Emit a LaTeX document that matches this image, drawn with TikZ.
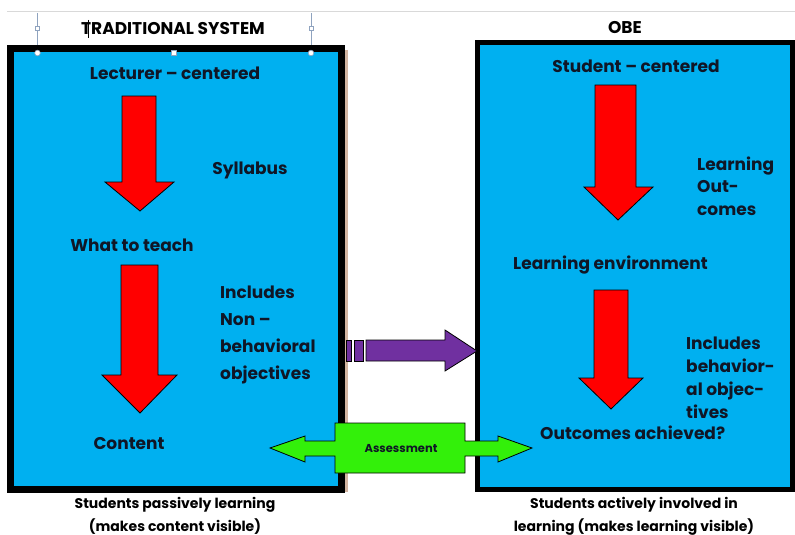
\documentclass[tikz,border=0pt]{standalone}
\usepackage{fontspec}
\setmainfont{Poppins}
\definecolor{boxblue}{HTML}{00B0F0}
\definecolor{arrred}{HTML}{FF0000}
\definecolor{arrpurple}{HTML}{7030A0}
\definecolor{arrgreen}{HTML}{33F00A}
\definecolor{txtc}{HTML}{101626}
\definecolor{handle}{HTML}{8FA3BF}
\definecolor{shadowc}{HTML}{D2B4A0}
\begin{document}
\begin{tikzpicture}[x=1pt,y=-1pt,
  lbl/.style={font=\bfseries\fontsize{17}{20}\selectfont, text=txtc, inner sep=0pt},
  biglbl/.style={font=\bfseries\fontsize{17}{20}\selectfont, text=black, inner sep=0pt},
  caplbl/.style={font=\bfseries\fontsize{14}{23}\selectfont, text=black, inner sep=0pt, align=center},
  blockarrow/.style={draw=black, line width=0.8pt, line join=miter},
  panel/.style={draw=black, fill=boxblue, line join=miter},
  hnd/.style={draw=handle, fill=white, line width=0.6pt}]
\useasboundingbox (0,0) rectangle (795,535);
% editor artefacts
\draw[gray!30, line width=1pt] (7,12) -- (795,12);
\draw[handle, line width=0.6pt] (37.5,13) -- (37.5,53) (311,13) -- (311,53);
\draw[hnd] (35.5,26) rectangle (39.5,30);
\draw[hnd] (309,26) rectangle (313,30);
% left panel
\fill[shadowc] (341,50) rectangle (348,492);
\draw[panel, line width=7pt] (10.5,48.5) rectangle (341.5,489.5);
% right panel
\draw[panel, line width=5pt] (477.5,43) rectangle (792.5,489.5);
% handles on left panel
\draw[hnd] (37.5,53) circle (2.8);
\draw[hnd] (311,53) circle (2.8);
\draw[hnd] (171.5,50.5) rectangle (176.5,55.5);
% titles
\node[biglbl] (trad) at (173,29) {TRADITIONAL SYSTEM};
\draw[black, line width=0.6pt] (88,20) -- (88,38);
\node[biglbl] (obe) at (625,28) {OBE};
% left content
\node[lbl] (lect) at (175,73) {Lecturer – centered};
\draw[blockarrow, fill=arrred] (122,96) -- (156,96) -- (156,182) -- (174,182) -- (140,211) -- (105,182) -- (122,182) -- cycle;
\node[lbl] (syl) at (250,170) {Syllabus};
\node[lbl] (what) at (132,245) {What to teach};
\draw[blockarrow, fill=arrred] (121,265) -- (158,265) -- (158,375) -- (177,375) -- (140,413) -- (102,375) -- (121,375) -- cycle;
\node[lbl, align=left, anchor=west, font=\bfseries\fontsize{17}{26.7}\selectfont] (incl) at (220,335) {Includes\\Non –\\behavioral\\objectives};
\node[lbl] (cont) at (129,444) {Content};
% right content
\node[lbl] (stud) at (636,66) {Student – centered};
\draw[blockarrow, fill=arrred] (595,85) -- (636,85) -- (636,187) -- (653,187) -- (618,220) -- (584,187) -- (595,187) -- cycle;
\node[lbl, align=left, anchor=west, font=\bfseries\fontsize{17}{22.5}\selectfont] (lo) at (697,186) {Learning\\Out-\\comes};
\node[lbl, anchor=west] (env) at (513,265) {Learning environment};
\draw[blockarrow, fill=arrred] (594,290) -- (628,290) -- (628,378) -- (643,378) -- (611,409) -- (579,378) -- (594,378) -- cycle;
\node[lbl, align=left, anchor=west, font=\bfseries\fontsize{17}{23}\selectfont] (beh) at (686,378) {Includes\\behavior-\\al objec-\\tives};
\node[lbl, anchor=west] (outc) at (540,433) {Outcomes achieved?};
% purple arrow
\draw[blockarrow, fill=arrpurple] (346,340) rectangle (351,361);
\draw[blockarrow, fill=arrpurple] (354,340) rectangle (363,361);
\draw[blockarrow, fill=arrpurple] (366,340) -- (445,340) -- (445,330) -- (477,351) -- (445,371) -- (445,361) -- (366,361) -- cycle;
% green double arrow
\draw[blockarrow, fill=arrgreen] (270,448) -- (305,436) -- (305,441) -- (335,441) -- (335,423) -- (465,423) -- (465,441) -- (498,441) -- (498,436) -- (532,448) -- (498,462) -- (498,456) -- (465,456) -- (465,473) -- (335,473) -- (335,456) -- (305,456) -- (305,462) -- cycle;
\node[font=\bfseries\fontsize{11.5}{12}\selectfont, text=txtc, inner sep=0pt] (assess) at (401,449) {Assessment};
% captions
\node[caplbl] (capl) at (175,516) {Students passively learning\\(makes content visible)};
\node[caplbl] (capr) at (634,516) {Students actively involved in\\learning (makes learning visible)};
\end{tikzpicture}
\end{document}
